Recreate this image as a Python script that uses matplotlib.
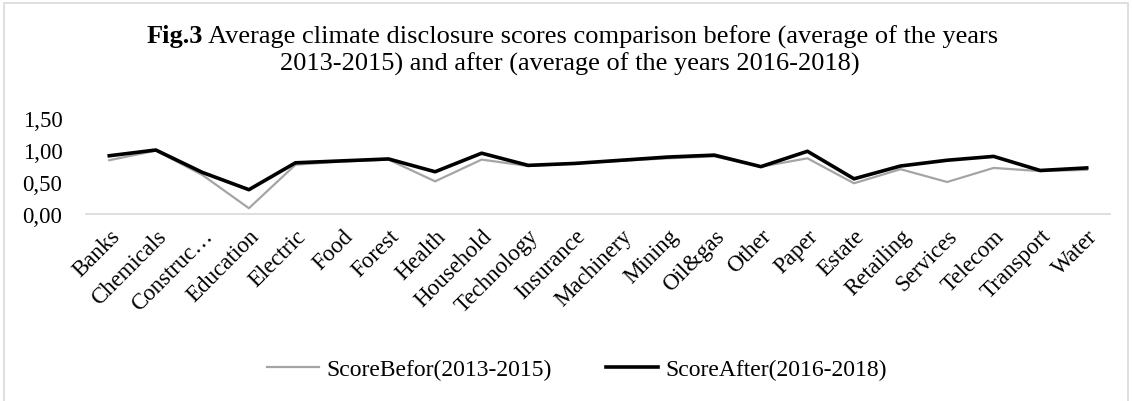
import matplotlib.pyplot as plt
from matplotlib.patches import Rectangle

plt.rcParams['font.family'] = ['Liberation Serif', 'DejaVu Serif']

# === Data ===
sectors = ['Banks', 'Chemicals', 'Construc…', 'Education', 'Electric', 'Food', 'Forest',
           'Health', 'Household', 'Technology', 'Insurance', 'Machinery', 'Mining',
           'Oil&gas', 'Other', 'Paper', 'Estate', 'Retailing', 'Services', 'Telecom',
           'Transport', 'Water']
score_before = [0.84, 0.99, 0.61, 0.09, 0.77, 0.82, 0.85, 0.51, 0.85, 0.75, 0.79,
                0.83, 0.87, 0.90, 0.74, 0.87, 0.48, 0.70, 0.50, 0.72, 0.67, 0.69]
score_after = [0.91, 1.00, 0.65, 0.38, 0.80, 0.83, 0.86, 0.66, 0.95, 0.76, 0.79,
               0.84, 0.89, 0.92, 0.74, 0.98, 0.55, 0.75, 0.84, 0.90, 0.68, 0.72]
yticks = [0.0, 0.5, 1.0, 1.5]
ytick_labels = ['0,00', '0,50', '1,00', '1,50']

W, H = 1132, 402

# === Plot ===
fig = plt.figure(figsize=(W / 100, H / 100), dpi=100)
ax = fig.add_axes([86 / W, 1 - 215 / H, 1024 / W, 96 / H])

x = range(len(sectors))
ax.plot(x, score_before, color='#A5A5A5', linewidth=1.6, label='ScoreBefor(2013-2015)')
ax.plot(x, score_after, color='black', linewidth=2.6, label='ScoreAfter(2016-2018)')

ax.set_xlim(-0.5, len(sectors) - 0.5)
ax.set_ylim(0, 1.5)
ax.set_yticks(yticks)
ax.set_yticklabels(ytick_labels, fontsize=16.5)
ax.set_xticks(list(x))
ax.set_xticklabels(sectors, rotation=45, ha='right', va='top', rotation_mode='anchor',
                   fontsize=16.5)
ax.tick_params(axis='x', length=0, pad=8)
ax.tick_params(axis='y', length=0, pad=17)
for s in ['top', 'right', 'left']:
    ax.spines[s].set_visible(False)
ax.spines['bottom'].set_color('#D9D9D9')
ax.spines['bottom'].set_linewidth(1.2)

# title: bold "Fig.3" followed by the normal text, centred as one line
renderer = fig.canvas.get_renderer()
t_bold = fig.text(0, 1 - 37 / H, 'Fig.3', fontsize=19, fontweight='bold',
                  ha='left', va='center')
t_rest = fig.text(0, 1 - 37 / H,
                  ' Average climate disclosure scores comparison before (average of the years',
                  fontsize=19, ha='left', va='center')
wb = t_bold.get_window_extent(renderer).width
wr = t_rest.get_window_extent(renderer).width
x0 = 572 - (wb + wr) / 2
t_bold.set_x(x0 / W)
t_rest.set_x((x0 + wb) / W)
fig.text(570 / W, 1 - 64 / H, '2013-2015) and after (average of the years 2016-2018)',
         ha='center', va='center', fontsize=19)

fig.legend(loc='center', bbox_to_anchor=(577 / W, 1 - 370 / H), ncol=2, frameon=False,
           fontsize=17, handlelength=2.2, handletextpad=0.3, columnspacing=2.3)

fig.patches.append(Rectangle((4 / W, -0.02), 1124 / W, 1 - 4 / H + 0.02,
                             transform=fig.transFigure, fill=False,
                             edgecolor='#D9D9D9', linewidth=1.2))

plt.savefig('out.png', dpi=100)
